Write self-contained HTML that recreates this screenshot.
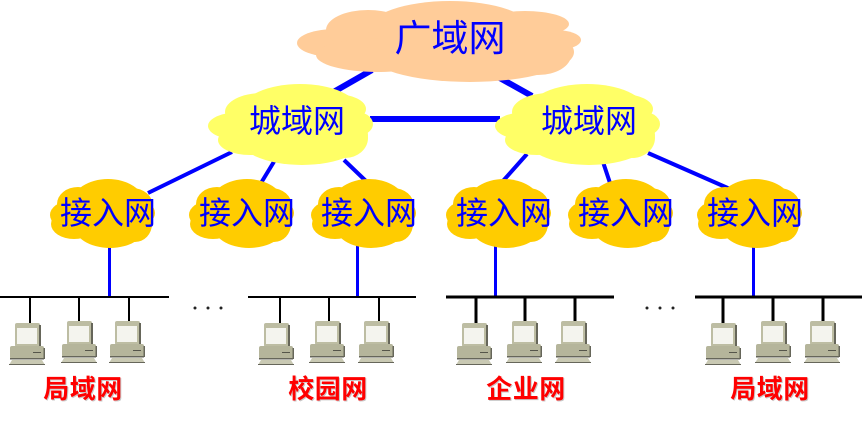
<!DOCTYPE html>
<html>
<head>
<meta charset="utf-8">
<style>
html,body{margin:0;padding:0;background:#fff}
svg{display:block}
.t{font-family:"Liberation Sans","WenQuanYi Zen Hei","Noto Sans CJK SC",sans-serif;fill:#0000ff;text-anchor:middle}
.r{font-family:"Liberation Sans","Noto Sans CJK SC",sans-serif;font-weight:bold;fill:#ff0000;text-anchor:middle;font-size:26px;letter-spacing:.5px}
.s{font-family:"Liberation Sans","Noto Sans CJK SC",sans-serif;font-weight:bold;fill:#c8c8c8;text-anchor:middle;font-size:26px;letter-spacing:.5px}
</style>
</head>
<body>
<svg width="864" height="423" viewBox="0 0 864 423" xmlns="http://www.w3.org/2000/svg">
<defs>
<g id="man" fill="#ffff66">
<ellipse cx="240" cy="126" rx="32" ry="14"/>
<ellipse cx="262" cy="112" rx="37" ry="19"/>
<ellipse cx="300" cy="110" rx="58" ry="26"/>
<ellipse cx="250" cy="140" rx="32" ry="15"/>
<ellipse cx="302" cy="135" rx="66" ry="30"/>
<ellipse cx="335" cy="109" rx="31" ry="15"/>
<ellipse cx="353" cy="124" rx="20" ry="13"/>
<ellipse cx="345" cy="138" rx="23" ry="20"/>
</g>
<g id="acc" fill="#ffcc00">
<ellipse cx="70" cy="215" rx="20" ry="14"/>
<ellipse cx="78" cy="204" rx="21" ry="17"/>
<ellipse cx="108" cy="203" rx="36" ry="24"/>
<ellipse cx="74" cy="224" rx="23" ry="15"/>
<ellipse cx="110" cy="224" rx="37" ry="24"/>
<ellipse cx="132" cy="206" rx="21" ry="18"/>
<ellipse cx="139" cy="213" rx="16" ry="12"/>
<ellipse cx="135" cy="224" rx="17" ry="18"/>
</g>
<g id="pc">
<rect x="6" y="0" width="25" height="24" rx="2" fill="#bdbda3"/>
<rect x="30" y="2" width="2" height="22" fill="#66665a"/>
<rect x="8" y="5" width="20" height="16" fill="#f4f4ee"/>
<rect x="1" y="23" width="34" height="13" rx="2" fill="#b5b59b"/>
<rect x="1" y="35" width="34" height="1.5" fill="#66665a"/>
<rect x="34.5" y="25" width="1.5" height="11" fill="#66665a"/>
<rect x="24" y="29" width="8" height="1" fill="#55554a"/>
<path d="M3 37H33L36 42H0Z" fill="#c9c9b3"/>
<rect x="0" y="41" width="36" height="1" fill="#66665a"/>
</g>
</defs>

<g stroke="#0000ff" fill="none">
<path d="M372 70L330 94M498 77L532 96M370 119H500" stroke-width="6"/>
<path d="M232 152L148 193M275 160L261 183M344 160L368 183M527 154L503 181M603 162L611 186M648 153L730 189" stroke-width="4"/>
<path d="M109.500 245V297M357.500 245V297M495.500 245V297M753.500 245V297" stroke-width="3"/>
</g>

<g fill="#ffcc99">
<ellipse cx="335" cy="43" rx="38" ry="14"/>
<ellipse cx="368" cy="30" rx="42" ry="20"/>
<ellipse cx="450" cy="30" rx="82" ry="29"/>
<ellipse cx="378" cy="55" rx="62" ry="17"/>
<ellipse cx="470" cy="52" rx="104" ry="30"/>
<ellipse cx="525" cy="24" rx="44" ry="13"/>
<ellipse cx="555" cy="40" rx="26" ry="10"/>
<ellipse cx="538" cy="55" rx="33" ry="20"/>
</g>

<use href="#man"/>
<use href="#man" x="287"/>
<use href="#acc"/>
<use href="#acc" x="139"/>
<use href="#acc" x="261"/>
<use href="#acc" x="396"/>
<use href="#acc" x="518"/>
<use href="#acc" x="647"/>

<text class="t" x="450" y="51" font-size="37">广域网</text>
<text class="t" x="297" y="132" font-size="32">城域网</text>
<text class="t" x="589" y="132" font-size="32">城域网</text>
<text class="t" x="108" y="224" font-size="32">接入网</text>
<text class="t" x="247" y="224" font-size="32">接入网</text>
<text class="t" x="369" y="224" font-size="32">接入网</text>
<text class="t" x="504" y="224" font-size="32">接入网</text>
<text class="t" x="626" y="224" font-size="32">接入网</text>
<text class="t" x="755" y="224" font-size="32">接入网</text>

<g stroke="#000" fill="none">
<path d="M0 297H169M248 297H416" stroke-width="2"/>
<path d="M446 297H614M695 297H862" stroke-width="3"/>
<path d="M30 297V323M79 297V321M129 297V321M280 297V323M329 297V321M379 297V321" stroke-width="2"/>
<path d="M476 297V323M525 297V321M575 297V321M723 297V323M773 297V321M823 297V321" stroke-width="3"/>
</g>

<use href="#pc" x="9" y="323"/>
<use href="#pc" x="61" y="321"/>
<use href="#pc" x="109" y="321"/>
<use href="#pc" x="258" y="323"/>
<use href="#pc" x="309" y="321"/>
<use href="#pc" x="358" y="321"/>
<use href="#pc" x="456" y="323"/>
<use href="#pc" x="506" y="321"/>
<use href="#pc" x="555" y="321"/>
<use href="#pc" x="705" y="323"/>
<use href="#pc" x="755" y="321"/>
<use href="#pc" x="804" y="321"/>

<g fill="#222">
<circle cx="195" cy="308" r="1.500"/><circle cx="208" cy="308" r="1.500"/><circle cx="221" cy="308" r="1.500"/>
<circle cx="647" cy="308" r="1.500"/><circle cx="660" cy="308" r="1.500"/><circle cx="673" cy="308" r="1.500"/>
</g>

<text class="s" x="84" y="399">局域网</text>
<text class="s" x="329" y="399">校园网</text>
<text class="s" x="527" y="399">企业网</text>
<text class="s" x="771" y="399">局域网</text>
<text class="r" x="83" y="398">局域网</text>
<text class="r" x="328" y="398">校园网</text>
<text class="r" x="526" y="398">企业网</text>
<text class="r" x="770" y="398">局域网</text>
</svg>
</body>
</html>
